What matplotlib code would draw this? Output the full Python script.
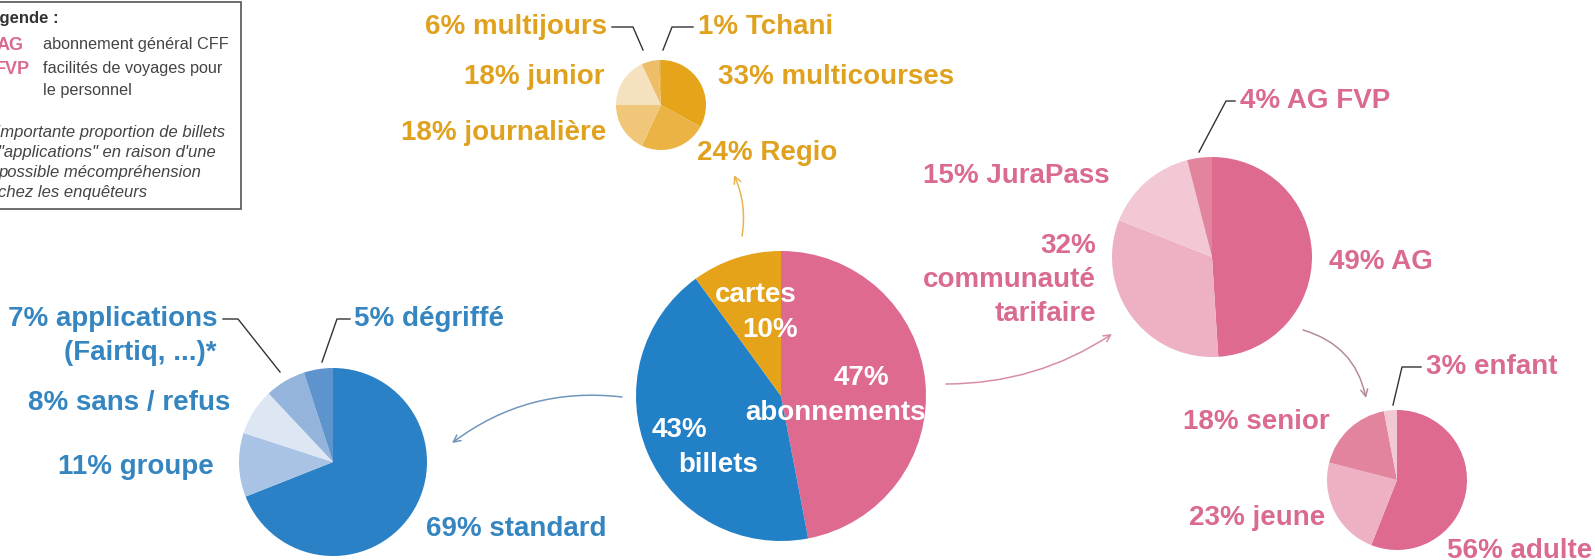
import matplotlib
matplotlib.use('Agg')
import matplotlib.pyplot as plt
from matplotlib.patches import Rectangle

plt.rcParams['font.family'] = ['Liberation Sans', 'DejaVu Sans']

# Data (percentages)
main_labels = ['abonnements', 'billets', 'cartes']
main_values = [47, 43, 10]

billets_labels = ['standard', 'groupe', 'sans / refus', 'applications', 'dégriffé']
billets_values = [69, 11, 8, 7, 5]

cartes_labels = ['multicourses', 'Regio', 'journalière', 'junior', 'multijours', 'Tchani']
cartes_values = [33, 24, 18, 18, 6, 1]

abo_labels = ['AG', 'communauté tarifaire', 'JuraPass', 'AG FVP']
abo_values = [49, 32, 15, 4]

ag_labels = ['adulte', 'jeune', 'senior', 'enfant']
ag_values = [56, 23, 18, 3]

# Colours
PINK, BLUE, YELLOW = '#DE6A8F', '#2280C6', '#E5A31A'
main_colors = [PINK, BLUE, YELLOW]
billets_colors = ['#2A81C6', '#A9C3E5', '#DDE6F3', '#94B4DC', '#5E94CE']
cartes_colors = ['#E6A41A', '#EBB343', '#F0C679', '#F6E1BE', '#EDBD68', '#E9B245']
abo_colors = ['#DE6A8F', '#EDB1C3', '#F2C8D5', '#E3849F']
ag_colors = ['#DE6A8F', '#EDB1C3', '#E3849F', '#F2C8D5']
TXT_BLUE, TXT_YEL, TXT_PINK = '#3585C0', '#E0A11E', '#DA6A8E'

W, H = 1595, 560


def Y(y):
    return H - y


fig = plt.figure(figsize=(W / 100, H / 100), dpi=100)
ax = fig.add_axes([0, 0, 1, 1])

wp = dict(linewidth=0)
ax.pie(main_values, colors=main_colors, startangle=90, counterclock=False,
       center=(781, Y(396)), radius=145, wedgeprops=wp)
ax.pie(billets_values, colors=billets_colors, startangle=90, counterclock=False,
       center=(333, Y(462)), radius=94, wedgeprops=wp)
ax.pie(cartes_values, colors=cartes_colors, startangle=90, counterclock=False,
       center=(661, Y(105)), radius=45, wedgeprops=wp)
ax.pie(abo_values, colors=abo_colors, startangle=90, counterclock=False,
       center=(1212, Y(257)), radius=100, wedgeprops=wp)
ax.pie(ag_values, colors=ag_colors, startangle=90, counterclock=False,
       center=(1397, Y(480)), radius=70, wedgeprops=wp)

ax.set_xlim(0, W)
ax.set_ylim(0, H)
ax.set_aspect('auto')
ax.axis('off')

FS = 20
bold = dict(fontsize=FS, fontweight='bold', va='center')

def lab(x, y, s, color, ha='left', **kw):
    ax.text(x, Y(y), s, color=color, ha=ha, **{**bold, **kw})

def leader(pts):
    ax.plot([p[0] for p in pts], [Y(p[1]) for p in pts], color='#333333', lw=1)

# main pie labels (white)
lab(797, 295, main_labels[2], 'white', ha='right')
lab(798, 330, f'{main_values[2]}%', 'white', ha='right')
lab(834, 378, f'{main_values[0]}%', 'white')
lab(745, 413, main_labels[0], 'white')
lab(652, 430, f'{main_values[1]}%', 'white')
lab(678, 465, main_labels[1], 'white')

# billets
lab(218, 319, f'{billets_values[3]}% {billets_labels[3]}', TXT_BLUE, ha='right')
lab(216, 353, '(Fairtiq, ...)*', TXT_BLUE, ha='right')
lab(354, 319, f'{billets_values[4]}% {billets_labels[4]}', TXT_BLUE)
lab(230, 403, f'{billets_values[2]}% {billets_labels[2]}', TXT_BLUE, ha='right')
lab(214, 467, f'{billets_values[1]}% {billets_labels[1]}', TXT_BLUE, ha='right')
lab(426, 529, f'{billets_values[0]}% {billets_labels[0]}', TXT_BLUE)
leader([(223, 319), (238, 319), (280, 372)])
leader([(350, 319), (337, 319), (322, 362)])

# cartes
lab(607, 27, f'{cartes_values[4]}% {cartes_labels[4]}', TXT_YEL, ha='right')
lab(698, 27, f'{cartes_values[5]}% {cartes_labels[5]}', TXT_YEL)
lab(605, 77, f'{cartes_values[3]}% {cartes_labels[3]}', TXT_YEL, ha='right')
lab(718, 77, f'{cartes_values[0]}% {cartes_labels[0]}', TXT_YEL)
lab(606, 133, f'{cartes_values[2]}% {cartes_labels[2]}', TXT_YEL, ha='right')
lab(697, 153, f'{cartes_values[1]}% {cartes_labels[1]}', TXT_YEL)
leader([(612, 27), (633, 27), (643, 50)])
leader([(693, 27), (672, 27), (663, 50)])

# abonnements
lab(1240, 101, f'{abo_values[3]}% {abo_labels[3]}', TXT_PINK)
lab(1110, 176, f'{abo_values[2]}% {abo_labels[2]}', TXT_PINK, ha='right')
lab(1096, 280, f'{abo_values[1]}%\ncommunauté\ntarifaire', TXT_PINK, ha='right',
    multialignment='right', linespacing=1.4)
lab(1329, 262, f'{abo_values[0]}% {abo_labels[0]}', TXT_PINK)
leader([(1235, 101), (1226, 101), (1199, 152)])

# AG
lab(1426, 367, f'{ag_values[3]}% {ag_labels[3]}', TXT_PINK)
lab(1330, 422, f'{ag_values[2]}% {ag_labels[2]}', TXT_PINK, ha='right')
lab(1325, 518, f'{ag_values[1]}% {ag_labels[1]}', TXT_PINK, ha='right')
lab(1447, 551, f'{ag_values[0]}% {ag_labels[0]}', TXT_PINK)
leader([(1421, 367), (1402, 367), (1393, 405)])

# arrows
def arrow(p1, p2, color, rad):
    ax.annotate('', xy=(p2[0], Y(p2[1])), xytext=(p1[0], Y(p1[1])),
                arrowprops=dict(arrowstyle='->,head_length=0.5,head_width=0.25',
                                color=color, lw=1.1, shrinkA=0, shrinkB=0,
                                connectionstyle=f'arc3,rad={rad}'))

arrow((622, 397), (452, 443), '#7196BD', 0.2)
arrow((742, 236), (734, 175), '#E8B451', 0.15)
arrow((946, 384), (1112, 334), '#D78EA5', 0.15)
arrow((1303, 330), (1366, 398), '#B58C99', -0.3)

# legend box (partly cut off on the left)
ax.add_patch(Rectangle((-10, Y(209)), 251, 207, fill=False, edgecolor='#555555', lw=1.2))
ax.text(-20, Y(18), 'Légende :', fontsize=12, fontweight='bold', color='#333333', va='center')
ax.text(-3, Y(45), 'AG', fontsize=13, fontweight='bold', color=TXT_PINK, va='center')
ax.text(43, Y(45), 'abonnement général CFF', fontsize=11.7, color='#444444', va='center')
ax.text(-5, Y(69), 'FVP', fontsize=13, fontweight='bold', color=TXT_PINK, va='center')
ax.text(43, Y(69), 'facilités de voyages pour', fontsize=11.7, color='#444444', va='center')
ax.text(43, Y(90), 'le personnel', fontsize=11.7, color='#444444', va='center')
notes = ['*importante proportion de billets', '"applications" en raison d\'une',
         'possible mécompréhension', 'chez les enquêteurs']
for i, s in enumerate(notes):
    ax.text(-10 if i == 0 else -2, Y(132 + 20 * i), s, fontsize=12, style='italic',
            color='#444444', va='center')

fig.savefig('out.png', dpi=100)
